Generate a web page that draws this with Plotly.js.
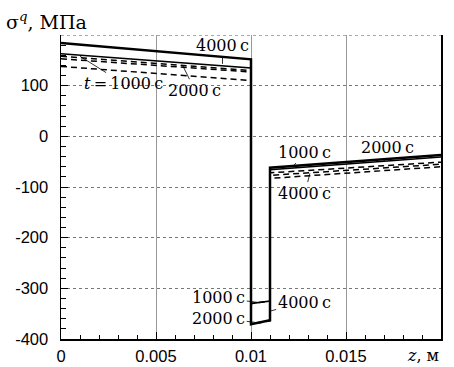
<!DOCTYPE html>
<html><head><meta charset="utf-8">
<script src="https://cdn.plot.ly/plotly-3.0.1.min.js"></script>
<style>html,body{margin:0;padding:0;background:#fff}#chart{width:454px;height:367px}</style>
</head><body><div id="chart"></div>
<script>
// z breakpoints of the three regions
const zLeft = [0, 0.01];
const zMid = [0.01, 0.011];
const zRight = [0.011, 0.02];

// sigma^q values (MPa): [start, end] of each region
const solidThickLeft = [184, 152], solidThickMid = [-371, -363], solidThickRight = [-62, -37];
const solidThinLeft = [163, 135], solidThinMid = [-330, -325], solidThinRight = [-66, -41];
const dashALeft = [158, 130], dashAMid = [-371, -364], dashARight = [-72, -51];
const dashBLeft = [153, 127], dashBMid = [-330, -325], dashBRight = [-77, -55];
const dashCLeft = [138, 110], dashCMid = [-371, -363], dashCRight = [-83, -60];

const yTickVals = [-400, -300, -200, -100, 0, 100];
const yTickText = ['-400', '-300', '-200', '-100', '0', '100'];
const xTickVals = [0, 0.005, 0.01, 0.015];
const xTickText = ['0', '0.005', '0.01', '0.015'];
const yTop = 200;

function mk(l, m, r, width, dash) {
  return {
    type: 'scatter', mode: 'lines',
    x: [zLeft[0], zLeft[1], zMid[0], zMid[1], zRight[0], zRight[1]],
    y: [l[0], l[1], m[0], m[1], r[0], r[1]],
    line: {color: '#000', width: width, dash: dash},
    hoverinfo: 'skip', showlegend: false
  };
}
const traces = [
  mk(dashCLeft, dashCMid, dashCRight, 1.5, '6px,4px'),
  mk(dashBLeft, dashBMid, dashBRight, 1.5, '6px,4px'),
  mk(dashALeft, dashAMid, dashARight, 1.5, '6px,4px'),
  mk(solidThinLeft, solidThinMid, solidThinRight, 1.5, 'solid'),
  mk(solidThickLeft, solidThickMid, solidThickRight, 2.5, 'solid')
];

const serif = {family: 'DejaVu Serif', size: 16, color: '#000'};
function lab(text, x, y, ax, ay) {
  return {text: text, x: x, y: y, xref: 'x', yref: 'y', ax: ax, ay: ay, axref: 'x', ayref: 'y',
    showarrow: true, arrowhead: 0, arrowwidth: 0.8, arrowcolor: '#000', font: serif,
    bgcolor: 'rgba(0,0,0,0)', standoff: 0, startstandoff: 0};
}
const annotations = [
  {text: 'σ<sup><i>q</i></sup>, МПа', xref: 'paper', yref: 'paper', x: -0.15, y: 1.0, xanchor: 'left', yanchor: 'bottom',
   showarrow: false, font: {family: 'DejaVu Serif', size: 19, color: '#000'}},
  {text: '<i>z</i>, м', xref: 'paper', yref: 'paper', x: 1.0, y: -0.015, xanchor: 'right', yanchor: 'top',
   showarrow: false, font: {family: 'DejaVu Serif', size: 16, color: '#000'}},
  // left region
  lab('4000\u2009с', 0.0085, 143, 0.0085, 179),
  lab('<i>t</i>\u2009=\u20091000\u2009с', 0.001, 158, 0.0033, 104),
  lab('2000\u2009с', 0.0064, 140, 0.00705, 91),
  // right region
  lab('1000\u2009с', 0.0122, -60, 0.01284, -31),
  lab('2000\u2009с', 0.017, -49, 0.01721, -22),
  lab('4000\u2009с', 0.0131, -73, 0.01284, -112),
  // middle region
  lab('1000\u2009с', 0.0104, -328, 0.0083, -318),
  lab('2000\u2009с', 0.0102, -367, 0.0083, -359),
  lab('4000\u2009с', 0.011, -345, 0.0128, -327)
];

const layout = {
  width: 454, height: 367,
  margin: {l: 61, r: 13, t: 35, b: 28},
  paper_bgcolor: '#fff', plot_bgcolor: '#fff',
  showlegend: false,
  xaxis: {
    range: [0, 0.02], tickmode: 'array', tickvals: xTickVals, ticktext: xTickText,
    showline: true, linecolor: '#000', linewidth: 1.5, mirror: false,
    ticks: 'inside', ticklen: 7, tickcolor: '#000',
    minor: {tickmode: 'linear', tick0: 0, dtick: 0.001, ticks: 'inside', ticklen: 4, tickcolor: '#000', showgrid: false},
    showgrid: true, gridcolor: '#999', gridwidth: 1, griddash: 'solid',
    zeroline: false, ticklabelstandoff: 2,
    tickfont: {family: 'Liberation Sans', size: 16.5, color: '#000'}
  },
  yaxis: {
    range: [-400, 200], tickmode: 'array', tickvals: yTickVals, ticktext: yTickText,
    showline: true, linecolor: '#000', linewidth: 1.5, mirror: true,
    ticks: 'inside', ticklen: 7, tickcolor: '#000',
    minor: {tickmode: 'linear', tick0: 0, dtick: 20, ticks: 'inside', ticklen: 5, tickcolor: '#000', showgrid: false},
    showgrid: true, gridcolor: '#777', gridwidth: 1, griddash: 'dot',
    zeroline: false, ticklabelstandoff: 8,
    tickfont: {family: 'Liberation Sans', size: 16.5, color: '#000'}
  },
  shapes: [
    {type: 'line', xref: 'paper', yref: 'y', x0: 0, x1: 1, y0: yTop, y1: yTop,
     line: {color: '#555', width: 1, dash: 'dot'}}
  ],
  annotations: annotations
};
Plotly.newPlot('chart', traces, layout, {staticPlot: true, displayModeBar: false});
</script></body></html>
